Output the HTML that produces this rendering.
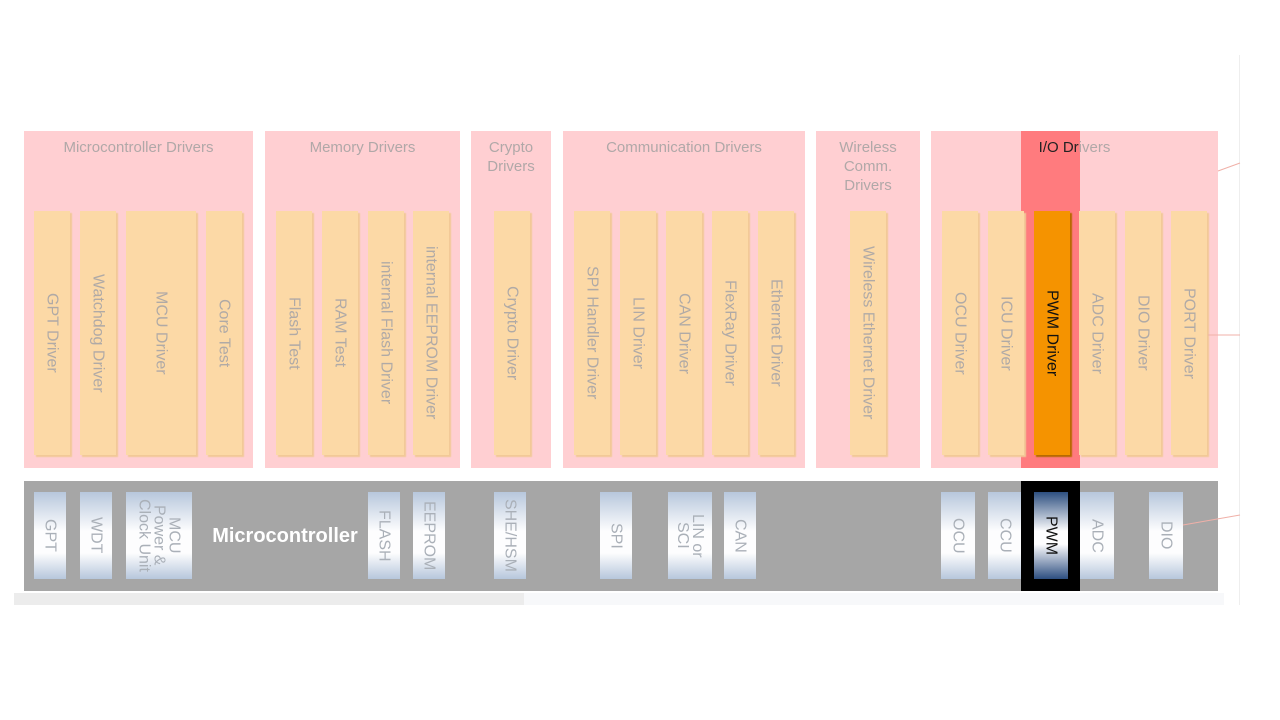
<!DOCTYPE html>
<html><head><meta charset="utf-8"><style>
body{margin:0;width:1280px;height:720px;background:#fff;position:relative;overflow:hidden;font-family:"Liberation Sans",sans-serif}
div{position:absolute;box-sizing:border-box}
.g{background:#ffcfd2;top:131px;height:337px}
.gt{color:#b0a8a8;font-size:15px;text-align:center;width:100%;top:7px;line-height:19px}
.d{background:#fcd9a6;top:211px;height:244px;box-shadow:2px 2px 1px #f2c997}
.c{top:492px;height:87px;background:linear-gradient(#b7c7dc,#fdfdfe 45%,#fdfdfe 70%,#b7c7dc)}
.v{writing-mode:vertical-rl;display:flex;align-items:center;justify-content:center;color:#b0aaa6;font-size:16px;width:100%;height:100%;line-height:15px;text-align:center}
.c .v{color:#aab0b8}
</style></head><body>
<div style="left:1239px;top:55px;width:1px;height:550px;background:#eee"></div>
<div style="left:14px;top:593px;width:510px;height:12px;background:#ececec"></div>
<div style="left:524px;top:593px;width:700px;height:12px;background:#f7f8fa"></div>

<div class="g" style="left:24px;width:229px"><div class="gt">Microcontroller Drivers</div></div>
<div class="g" style="left:265px;width:195px"><div class="gt">Memory Drivers</div></div>
<div class="g" style="left:471px;width:80px"><div class="gt">Crypto<br>Drivers</div></div>
<div class="g" style="left:563px;width:242px"><div class="gt">Communication Drivers</div></div>
<div class="g" style="left:816px;width:104px"><div class="gt">Wireless<br>Comm.<br>Drivers</div></div>
<div class="g" style="left:931px;width:287px"></div>
<div style="left:1021px;top:131px;width:59px;height:337px;background:#ff7b7e"></div>
<div style="left:931px;top:138px;width:287px;text-align:center;font-size:15px;color:#b0a8a8;line-height:19px"><span style="color:#222">I/O Dr</span>ivers</div>

<div class="d" style="left:34px;width:36px"><div class="v">GPT Driver</div></div>
<div class="d" style="left:80px;width:36px"><div class="v">Watchdog Driver</div></div>
<div class="d" style="left:126px;width:70px"><div class="v">MCU Driver</div></div>
<div class="d" style="left:206px;width:36px"><div class="v">Core Test</div></div>
<div class="d" style="left:276px;width:36px"><div class="v">Flash Test</div></div>
<div class="d" style="left:322px;width:36px"><div class="v">RAM Test</div></div>
<div class="d" style="left:368px;width:36px"><div class="v">internal Flash Driver</div></div>
<div class="d" style="left:413px;width:36px"><div class="v">internal EEPROM Driver</div></div>
<div class="d" style="left:494px;width:36px"><div class="v">Crypto Driver</div></div>
<div class="d" style="left:574px;width:36px"><div class="v">SPI Handler Driver</div></div>
<div class="d" style="left:620px;width:36px"><div class="v">LIN Driver</div></div>
<div class="d" style="left:666px;width:36px"><div class="v">CAN Driver</div></div>
<div class="d" style="left:712px;width:36px"><div class="v">FlexRay Driver</div></div>
<div class="d" style="left:758px;width:36px"><div class="v">Ethernet Driver</div></div>
<div class="d" style="left:850px;width:36px"><div class="v">Wireless Ethernet Driver</div></div>
<div class="d" style="left:942px;width:36px"><div class="v">OCU Driver</div></div>
<div class="d" style="left:988px;width:36px"><div class="v">ICU Driver</div></div>
<div class="d" style="left:1034px;width:36px;background:#f59300;box-shadow:2px 2px 1px #b86a00"><div class="v" style="color:#111">PWM Driver</div></div>
<div class="d" style="left:1079px;width:36px"><div class="v">ADC Driver</div></div>
<div class="d" style="left:1125px;width:36px"><div class="v">DIO Driver</div></div>
<div class="d" style="left:1171px;width:36px"><div class="v">PORT Driver</div></div>

<div style="left:24px;top:481px;width:1194px;height:110px;background:#a6a6a6"></div>
<div style="left:150px;top:525px;width:270px;text-align:center;color:#fff;font-weight:bold;font-size:20px">Microcontroller</div>
<div class="c" style="left:34px;width:32px"><div class="v">GPT</div></div>
<div class="c" style="left:80px;width:32px"><div class="v">WDT</div></div>
<div class="c" style="left:126px;width:66px"><div class="v">MCU<br>Power &amp;<br>Clock Unit</div></div>
<div class="c" style="left:368px;width:32px"><div class="v">FLASH</div></div>
<div class="c" style="left:413px;width:32px"><div class="v">EEPROM</div></div>
<div class="c" style="left:494px;width:32px"><div class="v">SHE/HSM</div></div>
<div class="c" style="left:600px;width:32px"><div class="v">SPI</div></div>
<div class="c" style="left:668px;width:44px"><div class="v">LIN or<br>SCI</div></div>
<div class="c" style="left:724px;width:32px"><div class="v">CAN</div></div>
<div class="c" style="left:941px;width:34px"><div class="v">OCU</div></div>
<div class="c" style="left:988px;width:34px"><div class="v">CCU</div></div>
<div class="c" style="left:1080px;width:34px"><div class="v">ADC</div></div>
<div class="c" style="left:1149px;width:34px"><div class="v">DIO</div></div>
<div style="left:1021px;top:481px;width:59px;height:110px;background:#000"></div>
<div class="c" style="left:1034px;width:34px;background:linear-gradient(#2d4f80,#fdfdfe 45%,#fdfdfe 60%,#2d4f80)"><div class="v" style="color:#111">PWM</div></div>

<svg style="position:absolute;left:0;top:0" width="1280" height="720">
<line x1="1218" y1="171" x2="1240" y2="163" stroke="#f0b0a8" stroke-width="1"/>
<line x1="1208" y1="335" x2="1240" y2="335" stroke="#f0b0a8" stroke-width="1"/>
<line x1="1183" y1="525" x2="1240" y2="515" stroke="#f0b0a8" stroke-width="1"/>
</svg>
</body></html>
